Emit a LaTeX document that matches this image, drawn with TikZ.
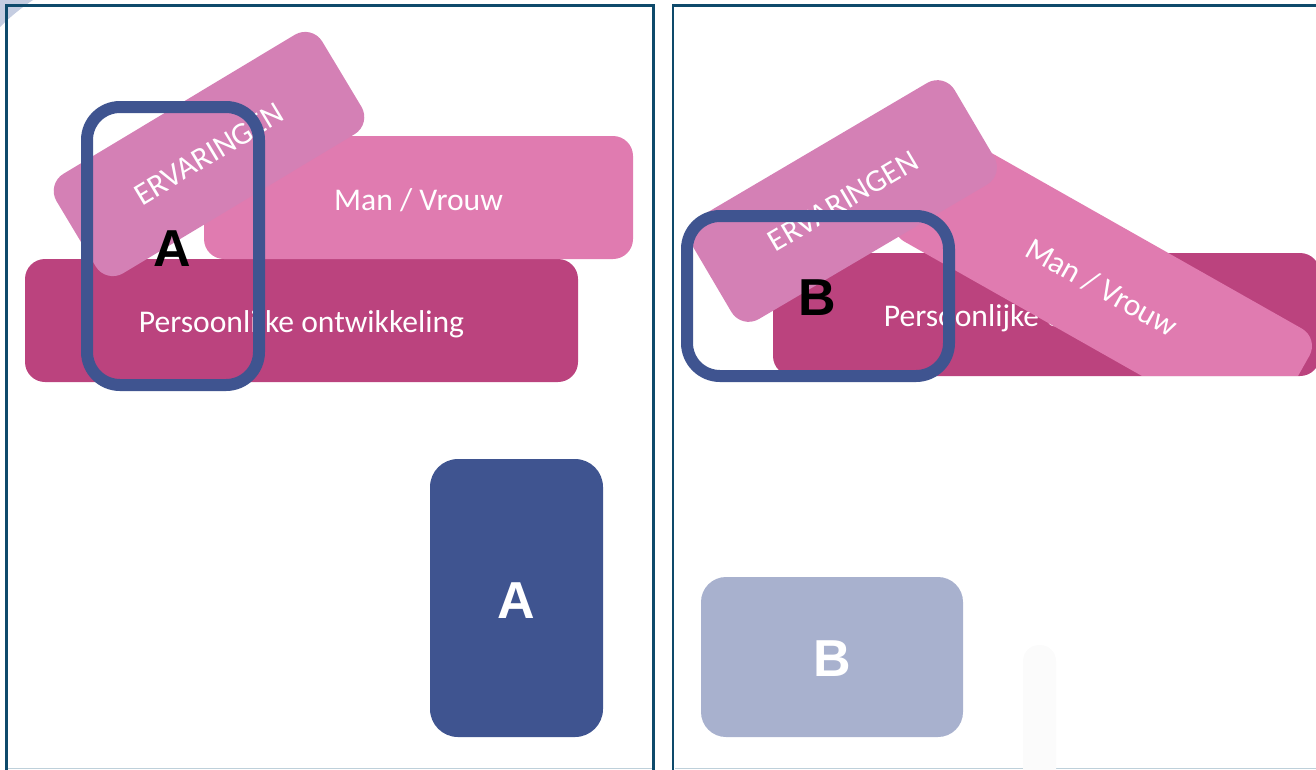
\documentclass[tikz,border=0pt]{standalone}
\usepackage{fontspec}
\setmainfont{Carlito}
\newfontfamily\lblfont{Carlito}
\newfontfamily\letfont{Liberation Sans}
\newcommand{\dnshift}[2]{\raisebox{-#1}[\height][\depth]{#2}}
\definecolor{persC}{RGB}{187,67,126}
\definecolor{manC}{RGB}{224,123,176}
\definecolor{ervC}{RGB}{212,128,181}
\definecolor{blueC}{RGB}{63,84,144}
\definecolor{lightB}{RGB}{168,177,206}
\definecolor{frameC}{RGB}{14,74,107}
\definecolor{cornerC}{RGB}{197,205,225}
\definecolor{bottomC}{RGB}{190,208,218}
\definecolor{faintC}{RGB}{251,251,251}
\tikzset{
  pinkbox/.style={inner sep=0pt, rounded corners=20pt, text=white,
    font=\lblfont\fontsize{31.6pt}{38pt}\selectfont},
  selbox/.style={draw=blueC, line width=12pt, inner sep=0pt},
  bigletter/.style={inner sep=0pt, font=\letfont\bfseries\fontsize{52pt}{60pt}\selectfont},
  panel/.style={draw=frameC, line width=2.5pt},
}
\begin{document}
\begin{tikzpicture}[x=1pt,y=-1pt]
\useasboundingbox (0,0) rectangle (1316,769);
% corner decoration
\fill[cornerC] (0,0) -- (33,0) .. controls (21,8) and (10,17) .. (0,27) -- cycle;
% panels
\draw[panel] (6.5,5.5) rectangle (653.5,790);
\draw[panel] (673,5.5) rectangle (1340,790);
\draw[bottomC, line width=1pt] (8,768) -- (652,768);
\draw[bottomC, line width=1pt] (675,768) -- (1316,768);

% ---------------- left panel ----------------
\node[pinkbox, fill=persC, minimum width=553pt, minimum height=123pt] (persL) at (301.5,320.5) {\dnshift{4pt}{Persoonlijke ontwikkeling}};
\node[pinkbox, fill=manC, minimum width=429pt, minimum height=123pt] (manL) at (418.5,197.5) {\dnshift{3pt}{Man / Vrouw}};
\node[pinkbox, fill=ervC, minimum width=310pt, minimum height=116pt, rotate=31] (ervL) at (209,154) {ERVARINGEN};
\node[bigletter, text=black] (letA) at (172.5,249) {A};
\node[selbox, rounded corners=33pt, minimum width=172pt, minimum height=278pt] (selA) at (173,246) {};
\node[bigletter, fill=blueC, text=white, rounded corners=28pt, minimum width=173pt, minimum height=278pt] (cardA) at (516.5,598) {\dnshift{3pt}{A}};

% ---------------- right panel ----------------
\node[pinkbox, fill=persC, minimum width=547pt, minimum height=123pt] (persR) at (1046.5,314.5) {\dnshift{4pt}{Persoonlijke ontwikkeling}};
\begin{scope}
  \clip (660,0) rectangle (1316,375);
  \node[pinkbox, fill=manC, minimum width=429pt, minimum height=120pt, rotate=-29.5] (manR) at (1103,285) {\dnshift{3pt}{Man / Vrouw}};
\end{scope}
\node[pinkbox, fill=ervC, minimum width=305pt, minimum height=118pt, rotate=30.5] (ervR) at (843,201) {ERVARINGEN};
\node[bigletter, text=black] (letB) at (817,298) {B};
\node[selbox, rounded corners=33pt, minimum width=262pt, minimum height=160pt] (selB) at (818,296) {};
\node[bigletter, fill=lightB, text=white, rounded corners=25pt, minimum width=262pt, minimum height=160pt] (cardB) at (832,657) {\dnshift{2pt}{B}};
\fill[faintC, rounded corners=16pt] (1023,645) rectangle (1056,800);
\end{tikzpicture}
\end{document}
